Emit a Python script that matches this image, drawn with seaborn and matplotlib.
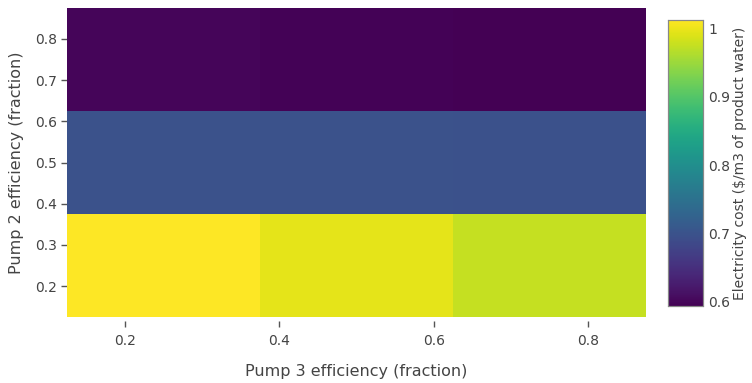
import numpy as np
import pandas as pd
import matplotlib
matplotlib.use("Agg")
import matplotlib.pyplot as plt
import seaborn as sns

# Data
pump3_eff = [0.25, 0.5, 0.75]   # x axis
pump2_eff = [0.25, 0.5, 0.75]   # y axis
# rows follow pump2_eff, columns follow pump3_eff
cost_low = [1.012, 0.995, 0.975]
cost_mid = [0.700, 0.699, 0.698]
cost_high = [0.600, 0.596, 0.594]
x_ticks = [0.2, 0.4, 0.6, 0.8]
y_ticks = [0.2, 0.3, 0.4, 0.5, 0.6, 0.7, 0.8]
cbar_ticks = [0.6, 0.7, 0.8, 0.9, 1.0]

sns.set_style("white")
plt.rcParams['font.family'] = ['DejaVu Sans']

df = pd.DataFrame([cost_low, cost_mid, cost_high], index=pump2_eff, columns=pump3_eff)
vmin = df.values.min()
vmax = df.values.max()

fig = plt.figure(figsize=(7.52, 3.83), dpi=100)
ax = fig.add_axes([67 / 752, 66 / 383, 579 / 752, 309 / 383])
cax = fig.add_axes([668 / 752, 77 / 383, 35 / 752, 286 / 383])

sns.heatmap(df, ax=ax, cbar_ax=cax, cmap="viridis", vmin=vmin, vmax=vmax,
            xticklabels=False, yticklabels=False)
ax.invert_yaxis()

# map data values to cell index coordinates
step = pump3_eff[1] - pump3_eff[0]
x0 = pump3_eff[0] - step / 2
y0 = pump2_eff[0] - step / 2
ax.set_xticks([(t - x0) / step for t in x_ticks])
ax.set_xticklabels([f"{t:g}" for t in x_ticks])
ax.set_yticks([(t - y0) / step for t in y_ticks])
ax.set_yticklabels([f"{t:g}" for t in y_ticks])

grey = "#444444"
tick_col = "#555555"
ax.tick_params(axis="both", length=4, width=1, color=tick_col, labelcolor=grey,
               labelsize=10, left=True, bottom=True)
ax.tick_params(axis="x", pad=5)
ax.tick_params(axis="y", pad=3)
ax.spines["bottom"].set_position(("outward", 3))
for s in ax.spines.values():
    s.set_visible(False)

ax.set_xlabel("Pump 3 efficiency (fraction)", fontsize=11.5, color=grey, labelpad=12)
ax.set_ylabel("Pump 2 efficiency (fraction)", fontsize=11.5, color=grey, labelpad=8)

cax.set_yticks(cbar_ticks)
cax.set_yticklabels([f"{t:g}" for t in cbar_ticks])
cax.tick_params(length=0, labelsize=10, labelcolor=grey, pad=4)
for s in cax.spines.values():
    s.set_visible(True)
    s.set_color("#888888")
    s.set_linewidth(0.8)
cax.set_ylabel("Electricity cost ($/m3 of product water)", fontsize=10, color=grey,
               labelpad=2)

fig.savefig("out.png", dpi=100)
